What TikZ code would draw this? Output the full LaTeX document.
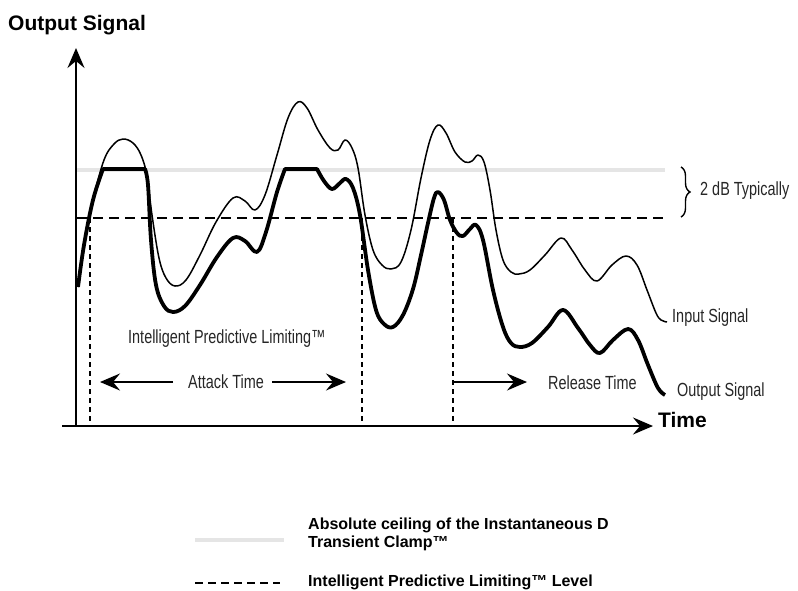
\documentclass[tikz,border=0pt]{standalone}
\usepackage{fontspec}
\setmainfont{Liberation Sans}
\newfontfamily\condfont[FakeStretch=0.76]{Liberation Sans}
\usetikzlibrary{arrows.meta,decorations.pathreplacing}

\begin{document}
\begin{tikzpicture}[x=1pt,y=-1pt,
  axis/.style={line width=2pt,-{Stealth[length=20pt,width=17pt,inset=7pt]}},
  span/.style={line width=1.8pt,-{Stealth[length=20pt,width=17pt,inset=7pt]}},
  ceiling/.style={line width=4pt,black!10},
  level/.style={line width=1.8pt,dash pattern=on 10pt off 6pt},
  marker/.style={line width=1.8pt,dash pattern=on 5pt off 4pt},
  legenddash/.style={line width=1.5pt,dash pattern=on 8pt off 5pt},
  insig/.style={line width=1.5pt,line join=round},
  outsig/.style={line width=3.8pt,line join=round},
  cond/.style={font=\condfont\fontsize{19}{21}\selectfont,text=black!85,inner sep=0pt},
  heavy/.style={font=\bfseries\fontsize{21}{24}\selectfont,inner sep=0pt},
  legend/.style={font=\bfseries\fontsize{16}{18}\selectfont,inner sep=0pt,align=left}]
  \useasboundingbox (0,0) rectangle (798,590);
  \coordinate (O) at (76,426);
  \coordinate (ytip) at (76,48);
  \coordinate (xstart) at (62,426);
  \coordinate (xtip) at (653,426);
  \coordinate (ceil1) at (77,170);
  \coordinate (ceil2) at (665,170);
  \coordinate (lev1) at (77,218);
  \coordinate (lev2) at (665,218);
  \coordinate (m1top) at (90,218);
  \coordinate (m1bot) at (90,426);
  \coordinate (m2top) at (362,218);
  \coordinate (m2bot) at (362,426);
  \coordinate (m3top) at (453,218);
  \coordinate (m3bot) at (453,426);
  \coordinate (atk1) at (173,382);
  \coordinate (atkL) at (100,382);
  \coordinate (atk2) at (272,382);
  \coordinate (atkR) at (346,382);
  \coordinate (rel1) at (453,382);
  \coordinate (relR) at (527,382);
  \coordinate (br1) at (681,167);
  \coordinate (br2) at (681,217);
  \coordinate (lg1a) at (195,540);
  \coordinate (lg1b) at (284,540);
  \coordinate (lg2a) at (195,583);
  \coordinate (lg2b) at (280,583);

  \draw[ceiling] (ceil1) -- (ceil2);
  \draw[level] (lev1) -- (lev2);
  \draw[marker] (m1top) -- (m1bot);
  \draw[marker] (m2top) -- (m2bot);
  \draw[marker] (m3top) -- (m3bot);
  \draw[axis] (O) -- (ytip);
  \draw[axis] (xstart) -- (xtip);

  \draw[insig] plot[smooth,tension=0.6] coordinates {(78,287) (84,245) (93,200) (104,160) (114,144) (123,139) (133,143) (141,155) (147,176) (152,215) (159,258) (166,278) (175,286) (186,280) (200,255) (216,222) (233,198) (245,201) (255,210) (265,195) (277,155) (288,118) (298,102) (307,108) (318,130) (330,148) (338,150) (345,140) (352,148) (358,168) (365,215) (373,250) (382,265) (391,269) (401,262) (411,230) (421,178) (430,140) (438,125) (446,133) (455,152) (465,162) (472,161) (478,155) (484,162) (490,190) (496,230) (503,260) (511,272) (519,274) (530,270) (545,255) (561,238) (572,250) (585,270) (597,281) (612,265) (626,256) (637,265) (647,290) (656,313) (661,320) (667,322)};
  \draw[outsig] plot[smooth,tension=0.6] coordinates {(78,287) (84,245) (93,200) (103,169)}
    -- plot[smooth,tension=0.6] coordinates {(145,169) (148,185) (151,240) (156,285) (164,306) (173,312) (185,306) (200,285) (217,257) (233,238) (245,241) (257,252) (266,232) (277,192) (285,169)}
    -- plot[smooth,tension=0.6] coordinates {(317,169) (324,181) (332,189) (340,183) (346,179) (353,188) (360,215) (368,270) (376,310) (384,324) (393,327) (403,315) (413,289) (421,255) (428,223) (434,198) (438,192) (444,200) (450,220) (457,233) (463,236) (470,229) (476,225) (483,240) (493,290) (503,327) (511,343) (520,347) (532,343) (548,327) (563,310) (578,328) (590,345) (600,353) (613,340) (628,329) (638,340) (648,365) (658,388) (665,395)};

  \draw[span] (atk1) -- (atkL);
  \draw[span] (atk2) -- (atkR);
  \draw[span] (rel1) -- (relR);
  \draw[line width=1.4pt,decorate,decoration={brace,amplitude=9pt}] (br1) -- (br2);

  \node[heavy,anchor=base west] (ylabel) at (8,30) {Output Signal};
  \node[heavy,anchor=base west] (xlabel) at (658,427) {Time};
  \node[cond,anchor=base west] (ipl) at (128,343) {Intelligent Predictive Limiting™};
  \node[cond,anchor=base west] (attack) at (188,388) {Attack Time};
  \node[cond,anchor=base west] (release) at (548,389) {Release Time};
  \node[cond,anchor=base west] (inlabel) at (672,322) {Input Signal};
  \node[cond,anchor=base west] (outlabel) at (677,396) {Output Signal};
  \node[cond,anchor=base west] (typ) at (700,195) {2 dB Typically};

  \draw[ceiling] (lg1a) -- (lg1b);
  \draw[legenddash] (lg2a) -- (lg2b);
  \node[legend,anchor=north west] (ceiltxt) at (308,518) {Absolute ceiling of the Instantaneous D\\Transient Clamp™};
  \node[legend,anchor=base west] (levtxt) at (308,586) {Intelligent Predictive Limiting™ Level};
\end{tikzpicture}
\end{document}
